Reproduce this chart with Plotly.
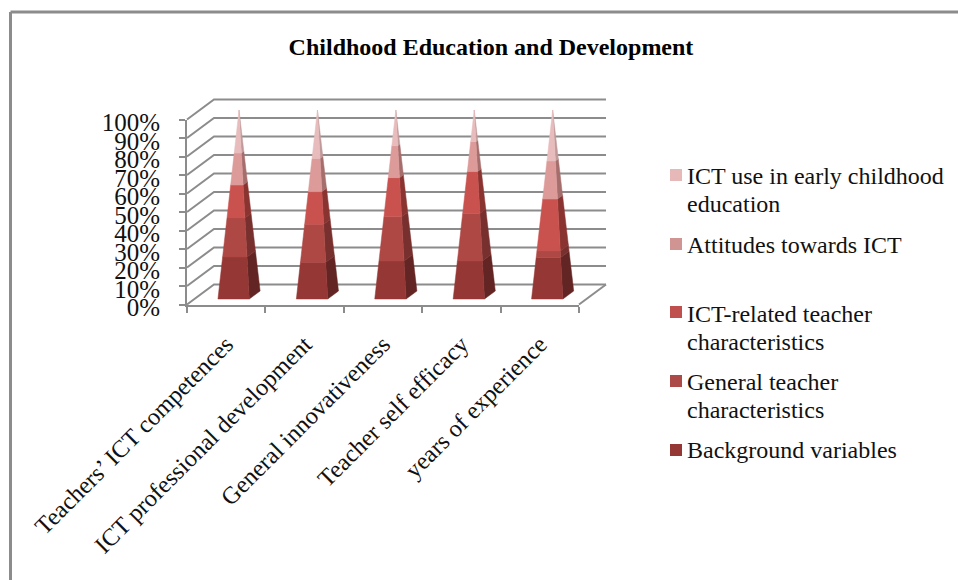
import plotly.graph_objects as go

# Chart content
title = "Childhood Education and Development"
categories = ["Teachers’ ICT competences", "ICT professional development",
              "General innovativeness", "Teacher self efficacy", "years of experience"]
background_variables = [22.2, 19.4, 20.1, 20.1, 21.9]
general_teacher = [20.7, 20.1, 23.4, 25.2, 3.5]
ict_related_teacher = [17.4, 17.3, 20.7, 22.1, 27.5]
attitudes_towards_ict = [16.9, 17.6, 16.9, 15.8, 20.1]
ict_use_early_childhood = [22.8, 25.6, 18.9, 16.8, 27.0]
percent_ticks = list(range(0, 101, 10))

series = [
    (["Background variables"], background_variables, "#953735", "#632523"),
    (["General teacher", "characteristics"], general_teacher, "#ae4845", "#78302e"),
    (["ICT-related teacher", "characteristics"], ict_related_teacher, "#c9524f", "#8a3431"),
    (["Attitudes towards ICT"], attitudes_towards_ict, "#dc9a99", "#a56e6d"),
    (["ICT use in early childhood", "education"], ict_use_early_childhood, "#e8bcbc", "#c09a9a"),
]

# Figure and plot box in pixels
W, H = 958, 580
LEFT, RIGHT, TOP, BOTTOM = 187, 579, 119.5, 304.5
CAT_PX = (RIGHT - LEFT) / len(categories)
PCT_PX = (BOTTOM - TOP) / 100

# Oblique projection: one unit of depth moves a point right and up
DEPTH_X = 27 / CAT_PX
DEPTH_Y = 20 / PCT_PX

# Pyramid footprint, as fractions of the category slot and of the depth
HALF_WIDTH = 0.2
HALF_DEPTH = 0.2
MID_DEPTH = 0.475

GRID = "#8c8c8c"
SERIF = "Liberation Serif"
INK = "#111111"
LABEL_DROP = 3  # percent labels sit slightly below their ticks


def project(cat, pct, depth):
    return cat + depth * DEPTH_X, pct + depth * DEPTH_Y


def corner(center, level, side_x, side_d):
    shrink = 1 - level / 100
    return project(center + side_x * HALF_WIDTH * shrink, level,
                   MID_DEPTH + side_d * HALF_DEPTH * shrink)


def polygon(points, color, name):
    xs, ys = zip(*points)
    return go.Scatter(x=list(xs) + [xs[0]], y=list(ys) + [ys[0]], mode="lines",
                      fill="toself", fillcolor=color, line=dict(color=color, width=0.5),
                      name=name, hoverinfo="name", showlegend=False)


fig = go.Figure()

# Walls and floor of the 3D box
grid_x, grid_y = [], []
for pct in percent_ticks:
    for cat, depth in [(0, 0), (0, 1), (len(categories), 1)]:
        px_, py_ = project(cat, pct, depth)
        grid_x.append(px_)
        grid_y.append(py_)
    grid_x.append(None)
    grid_y.append(None)
for depth in (0, 1):
    px_, py_ = project(len(categories), 0, depth)
    grid_x.append(px_)
    grid_y.append(py_)
fig.add_trace(go.Scatter(x=grid_x, y=grid_y, mode="lines", hoverinfo="skip", showlegend=False,
                         line=dict(color=GRID, width=2)))

# Stacked pyramids: right side faces first, then the front faces
for i in range(len(categories)):
    center = i + 0.5
    low = 0
    for lines, values, front, side in series:
        name = " ".join(lines)
        high = low + values[i]
        fig.add_trace(polygon([corner(center, low, 1, -1), corner(center, low, 1, 1),
                               corner(center, high, 1, 1), corner(center, high, 1, -1)],
                              side, name))
        fig.add_trace(polygon([corner(center, low, -1, -1), corner(center, low, 1, -1),
                               corner(center, high, 1, -1), corner(center, high, -1, -1)],
                              front, name))
        low = high

# Empty traces that bring up the front axes and the percent labels
for y_axis in ("y2", "y3"):
    fig.add_trace(go.Scatter(x=[i + 0.5 for i in range(len(categories))], y=[0] * len(categories),
                             xaxis="x2", yaxis=y_axis, mode="lines", line=dict(width=0),
                             hoverinfo="skip", showlegend=False))

# Drawing axes span the whole page, in the same units as the front axes
x_min = -LEFT / CAT_PX
x_max = (W - LEFT) / CAT_PX
y_min = -(H - BOTTOM) / PCT_PX
y_max = BOTTOM / PCT_PX

# Key: swatches and wrapped labels, top to bottom
key_rows = [(175, 176, series[4]), (244, 245, series[3]), (312, 314, series[2]),
            (381, 382, series[1]), (450, 450, series[0])]
key_colors = ["#e6b9b8", "#d09493", "#c0504d", "#ab4a47", "#953735"]
KEY_LINE = 27.5
shapes = []
annotations = []
for (swatch_y, text_y, (lines, _, _, _)), swatch in zip(key_rows, key_colors):
    shapes.append(dict(type="rect", xref="paper", yref="paper", x0=670 / W, x1=682 / W,
                       y0=1 - (swatch_y + 6) / H, y1=1 - (swatch_y - 6) / H,
                       fillcolor=swatch, line=dict(width=0)))
    for k, line in enumerate(lines):
        annotations.append(dict(xref="paper", yref="paper", x=685 / W, y=1 - (text_y + k * KEY_LINE) / H,
                                text=line, showarrow=False, xanchor="left", yanchor="middle", align="left",
                                font=dict(family=SERIF, size=24, color=INK)))

# Outer frame: only the top and left edges show
shapes.append(dict(type="line", xref="paper", yref="paper", x0=10.5 / W, x1=1, y0=1 - 12 / H, y1=1 - 12 / H,
                   line=dict(color="#8c8c8c", width=3)))
shapes.append(dict(type="line", xref="paper", yref="paper", x0=10.5 / W, x1=10.5 / W, y0=0, y1=1 - 12 / H,
                   line=dict(color="#8c8c8c", width=3)))

fig.update_layout(
    template="none",
    width=W, height=H, autosize=False,
    margin=dict(l=0, r=0, t=0, b=0),
    paper_bgcolor="white", plot_bgcolor="rgba(0,0,0,0)",
    showlegend=False,
    title=dict(text=f"<b>{title}</b>", x=491 / W, xanchor="center", y=1 - 47 / H, yanchor="middle",
               font=dict(family=SERIF, size=24, color="#000000")),
    shapes=shapes, annotations=annotations,
    xaxis=dict(domain=[0, 1], range=[x_min, x_max], visible=False),
    yaxis=dict(domain=[0, 1], range=[y_min, y_max], visible=False),
    xaxis2=dict(domain=[LEFT / W, RIGHT / W], range=[0, len(categories)], anchor="y2",
                tickmode="array", tickvals=[i + 0.5 for i in range(len(categories))], ticktext=categories,
                tickangle=-45, ticks="", showgrid=False, zeroline=False, showline=True,
                linecolor=GRID, linewidth=2, ticklabelstandoff=14,
                tickfont=dict(family=SERIF, size=24.3, color=INK),
                minor=dict(tickmode="array", tickvals=list(range(len(categories) + 1)), ticks="outside",
                           ticklen=6, tickwidth=2, tickcolor=GRID, showgrid=False)),
    yaxis2=dict(domain=[1 - BOTTOM / H, 1 - TOP / H], range=[0, 100], anchor="x2",
                tickmode="array", tickvals=percent_ticks, showticklabels=False,
                ticks="outside", ticklen=6, tickwidth=2, tickcolor=GRID, showgrid=False, zeroline=False,
                showline=True, linecolor=GRID, linewidth=2),
    yaxis3=dict(domain=[1 - (BOTTOM + LABEL_DROP) / H, 1 - (TOP + LABEL_DROP) / H], range=[0, 100],
                anchor="x2", tickmode="array", tickvals=percent_ticks,
                ticktext=[f"{p}%" for p in percent_ticks], ticks="", showgrid=False, zeroline=False,
                showline=False, ticklabelstandoff=26,
                tickfont=dict(family=SERIF, size=25, color=INK)),
)

fig.write_html("out.html", config=dict(displayModeBar=False))
